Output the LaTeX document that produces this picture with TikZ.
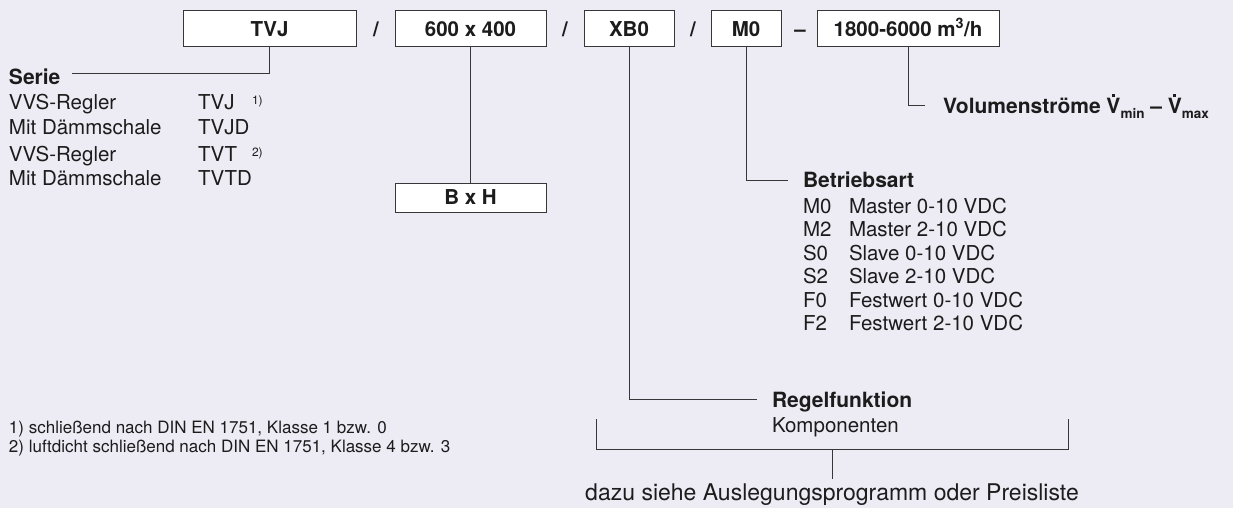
\documentclass[tikz,border=0pt]{standalone}
\usepackage{fontspec}
\setmainfont{TeX Gyre Heros}
\definecolor{bg}{RGB}{237,236,245}
\definecolor{ink}{RGB}{28,28,28}
\definecolor{ln}{RGB}{55,55,55}
\newcommand\Vdot{\ooalign{V\cr\hidewidth\raisebox{0.8em}{\rule{0.14em}{0.14em}}\hidewidth\cr}}
\newcommand\subtxt[1]{\raisebox{-0.22em}{\fontsize{13.5}{14}\selectfont #1}}
\begin{document}
\begin{tikzpicture}[x=1pt,y=-1pt,
  every node/.style={inner sep=0pt, outer sep=0pt, text=ink},
  codebox/.style={draw=ln, fill=white, line width=1pt, minimum height=36pt, text height=14.7pt, text depth=0pt, font=\fontsize{20.5}{24}\selectfont\bfseries},
  sepch/.style={font=\fontsize{20.5}{24}\selectfont\bfseries, text height=14.7pt, text depth=0pt},
  lbl/.style={anchor=base west, font=\fontsize{20.5}{24}\selectfont},
  blbl/.style={anchor=base west, font=\fontsize{21}{24}\selectfont\bfseries},
  supl/.style={anchor=base west, font=\fontsize{12}{14}\selectfont},
  fn/.style={anchor=base west, font=\fontsize{17}{19}\selectfont},
  conn/.style={draw=ln, line width=1pt}]
\fill[bg] (0,0) rectangle (1233,508);
\useasboundingbox (0,0) rectangle (1233,508);

% code boxes
\node[codebox, minimum width=173pt] (tvj) at (269.5,29) {TVJ};
\node[sepch] (s1) at (376,29) {/};
\node[codebox, minimum width=151pt] (dim) at (470.5,29) {600 x 400};
\node[sepch] (s2) at (565,29) {/};
\node[codebox, minimum width=90pt] (xb) at (629,29) {XB0};
\node[sepch] (s3) at (693,29) {/};
\node[codebox, minimum width=70pt] (mo) at (746,29) {M0};
\node[sepch] (s4) at (800,29) {–};
\node[codebox, minimum width=182pt] (vol) at (908,29) {1800-6000 m\textsuperscript{3}/h};
\node[codebox, minimum width=151pt, minimum height=29pt] (bxh) at (470.5,197.5) {B x H};

% Serie
\node[blbl] (serie) at (9,84.5) {Serie};
\coordinate (serieEnd) at (72,74);
\draw[conn] (tvj.south) |- (serieEnd);
\node[lbl] (r1) at (9,110) {VVS-Regler};
\node[lbl] (c1) at (198,110) {TVJ};
\node[supl] (f1) at (252,105) {1)};
\node[lbl] (r2) at (9,134) {Mit Dämmschale};
\node[lbl] (c2) at (198,134) {TVJD};
\node[lbl] (r3) at (9,161) {VVS-Regler};
\node[lbl] (c3) at (198,161) {TVT};
\node[supl] (f2) at (252,156) {2)};
\node[lbl] (r4) at (9,185) {Mit Dämmschale};
\node[lbl] (c4) at (198,185) {TVTD};

% B x H
\draw[conn] (dim.south) -- (bxh.north);

% Betriebsart
\coordinate (bEnd) at (788,180);
\draw[conn] (mo.south) |- (bEnd);
\node[blbl] (betr) at (803,187.5) {Betriebsart};
\node[lbl] (m0) at (803,213) {M0};
\node[lbl] (m0t) at (849,213) {Master 0-10 VDC};
\node[lbl] (m2) at (803,236.5) {M2};
\node[lbl] (m2t) at (849,236.5) {Master 2-10 VDC};
\node[lbl] (s0) at (803,260) {S0};
\node[lbl] (s0t) at (849,260) {Slave 0-10 VDC};
\node[lbl] (s2c) at (803,283.5) {S2};
\node[lbl] (s2t) at (849,283.5) {Slave 2-10 VDC};
\node[lbl] (f0) at (803,307) {F0};
\node[lbl] (f0t) at (849,307) {Festwert 0-10 VDC};
\node[lbl] (f2c) at (803,330.5) {F2};
\node[lbl] (f2t) at (849,330.5) {Festwert 2-10 VDC};

% Volumenstroeme
\coordinate (vEnd) at (925,106);
\draw[conn] (vol.south) |- (vEnd);
\node[blbl] (vtext) at (943,113.5) {Volumenströme \Vdot\subtxt{min} – \Vdot\subtxt{max}};

% Regelfunktion
\coordinate (rEnd) at (757,399);
\draw[conn] (xb.south) |- (rEnd);
\node[blbl] (regel) at (772,407.5) {Regelfunktion};
\node[lbl] (komp) at (772,432.5) {Komponenten};

% bracket
\coordinate (bl) at (596,419);
\coordinate (br) at (1068,419);
\coordinate (bm) at (832,449);
\coordinate (bs) at (832,479);
\draw[conn] (bl) -- (bl |- bm) -- (br |- bm) -- (br);
\draw[conn] (bm) -- (bs);
\node[anchor=base, font=\fontsize{23}{26}\selectfont] (dazu) at (832,500) {dazu siehe Auslegungsprogramm oder Preisliste};

% footnotes
\node[fn] (fn1) at (9,433) {1) schließend nach DIN EN 1751, Klasse 1 bzw. 0};
\node[fn] (fn2) at (9,452) {2) luftdicht schließend nach DIN EN 1751, Klasse 4 bzw. 3};
\end{tikzpicture}
\end{document}
